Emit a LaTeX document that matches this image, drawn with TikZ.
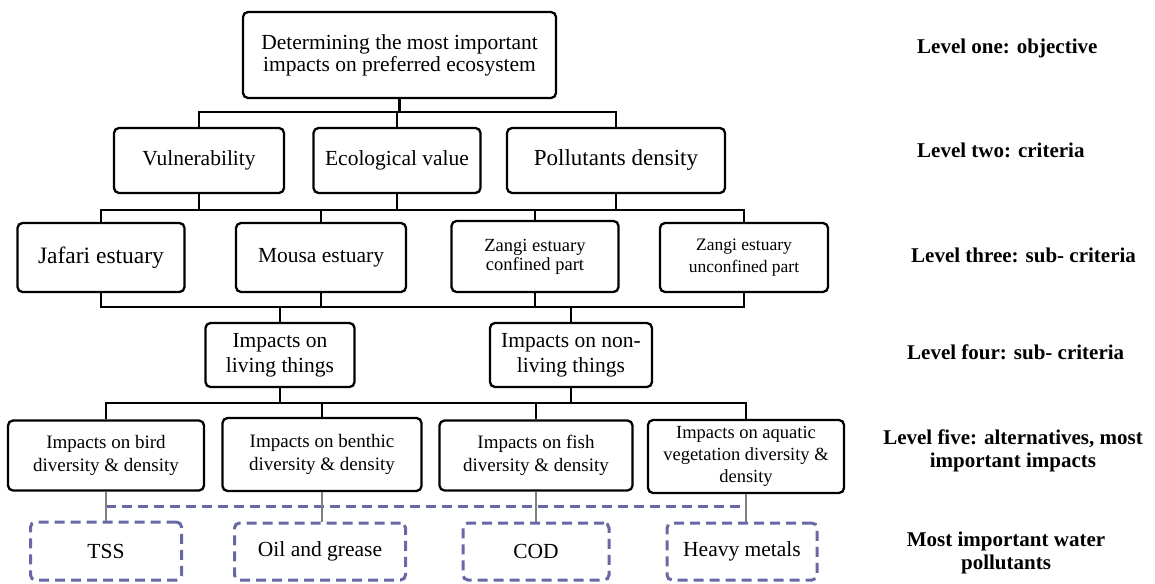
\documentclass[tikz,border=0pt]{standalone}
\usepackage{fontspec}
\setmainfont{Liberation Serif}
\definecolor{dashblue}{RGB}{104,104,164}
\definecolor{stemgray}{RGB}{128,128,128}
\begin{document}
\begin{tikzpicture}[x=1pt,y=-1pt,
  box/.style={draw=black, line width=2.3pt, rounded corners=5pt, align=center, inner sep=0pt},
  dbox/.style={draw=dashblue, line width=3pt, dash pattern=on 10pt off 6pt, rounded corners=5pt, align=center, inner sep=0pt},
  conn/.style={draw=black, line width=2.3pt},
  gline/.style={draw=stemgray, line width=2pt},
  dline/.style={draw=dashblue, line width=3pt, dash pattern=on 10pt off 6pt},
  lab/.style={font=\fontsize{21}{23}\selectfont\bfseries, inner sep=0pt, align=center},
  fmain/.style={font=\fontsize{21.5}{22}\selectfont},
  ffive/.style={font=\fontsize{19}{23}\selectfont}
]
\useasboundingbox (0,0) rectangle (1155,583);

% Level one
\node[box, fmain, minimum width=313pt, minimum height=86pt] (obj) at (399.5,55)
  {Determining the most important\\impacts on preferred ecosystem};

% Level two
\node[box, fmain, minimum width=170pt, minimum height=65pt] (vul) at (199,160.5) {Vulnerability};
\node[box, fmain, minimum width=167pt, minimum height=65pt] (eco) at (397,160.5) {Ecological value};
\node[box, font=\fontsize{23}{24}\selectfont, minimum width=218pt, minimum height=65pt] (pol) at (616,160.5) {Pollutants density};

% Level three
\node[box, font=\fontsize{23.5}{24}\selectfont, minimum width=167pt, minimum height=69pt] (jaf) at (101,257.5) {Jafari estuary};
\node[box, fmain, minimum width=170pt, minimum height=69pt] (mou) at (321,257.5) {Mousa estuary};
\node[box, font=\fontsize{18.5}{19}\selectfont, minimum width=167pt, minimum height=71pt] (zc) at (535,256.5) {Zangi estuary\\confined part};
\node[box, font=\fontsize{17.5}{22}\selectfont, minimum width=168pt, minimum height=69pt] (zu) at (744,257.5) {Zangi estuary\\unconfined part};

% Level four
\node[box, font=\fontsize{21.5}{25}\selectfont, minimum width=149pt, minimum height=64pt] (liv) at (280,355) {Impacts on\\living things};
\node[box, font=\fontsize{21.5}{25}\selectfont, minimum width=162pt, minimum height=64pt] (nliv) at (571,355) {Impacts on non-\\living things};

% Level five
\node[box, ffive, minimum width=196pt, minimum height=70pt] (bird) at (106,455.5) {Impacts on bird\\diversity \& density};
\node[box, ffive, minimum width=199pt, minimum height=73pt] (ben) at (322,454.5) {Impacts on benthic\\diversity \& density};
\node[box, ffive, minimum width=193pt, minimum height=70pt] (fish) at (536,455.5) {Impacts on fish\\diversity \& density};
\node[box, font=\fontsize{18.5}{22}\selectfont, minimum width=196pt, minimum height=73pt] (aqua) at (746,456.5) {Impacts on aquatic\\vegetation diversity \&\\density};

% Pollutant boxes
\node[dbox, fmain, minimum width=151pt, minimum height=58pt] (tss) at (106,551) {TSS};
\node[dbox, fmain, minimum width=171pt, minimum height=57pt] (oil) at (320,551.5) {Oil and grease};
\node[dbox, fmain, minimum width=146pt, minimum height=57pt] (cod) at (536,551.5) {COD};
\node[dbox, fmain, minimum width=150pt, minimum height=57pt] (hvy) at (742,551.5) {Heavy metals};

% Right-side level labels
\node[lab, anchor=west] (l1) at (917,48) {Level one: objective};
\node[lab, anchor=west] (l2) at (917,150) {Level two: criteria};
\node[lab, anchor=west] (l3) at (911,255) {Level three: sub- criteria};
\node[lab, anchor=west] (l4) at (907,352) {Level four: sub- criteria};
\node[lab] (l5) at (1013,451) {Level five: alternatives, most\\important impacts};
\node[lab] (l6) at (1006,553) {Most important water\\pollutants};

% bar levels
\coordinate (bar1) at (0,112);
\coordinate (bar2) at (0,210);
\coordinate (bar3) at (0,307);
\coordinate (bar4) at (0,403);
\coordinate (dsh) at (0,506);

% Level 1 -> 2
\draw[conn] (obj.south) -- (obj.south |- bar1);
\draw[conn] (vul.north) -- (vul.north |- bar1) -- (pol.north |- bar1) -- (pol.north);
\draw[conn] (eco.north) -- (eco.north |- bar1);

% Level 2 -> 3
\draw[conn] (vul.south) -- (vul.south |- bar2);
\draw[conn] (eco.south) -- (eco.south |- bar2);
\draw[conn] (pol.south) -- (pol.south |- bar2);
\draw[conn] (jaf.north) -- (jaf.north |- bar2) -- (zu.north |- bar2) -- (zu.north);
\draw[conn] (mou.north) -- (mou.north |- bar2);
\draw[conn] (zc.north) -- (zc.north |- bar2);

% Level 3 -> 4
\draw[conn] (jaf.south) -- (jaf.south |- bar3) -- (zu.south |- bar3) -- (zu.south);
\draw[conn] (mou.south) -- (mou.south |- bar3);
\draw[conn] (zc.south) -- (zc.south |- bar3);
\draw[conn] (liv.north) -- (liv.north |- bar3);
\draw[conn] (nliv.north) -- (nliv.north |- bar3);

% Level 4 -> 5
\draw[conn] (liv.south) -- (liv.south |- bar4);
\draw[conn] (nliv.south) -- (nliv.south |- bar4);
\draw[conn] (bird.north) -- (bird.north |- bar4) -- (aqua.north |- bar4) -- (aqua.north);
\draw[conn] (ben.north) -- (ben.north |- bar4);
\draw[conn] (fish.north) -- (fish.north |- bar4);

% Level 5 -> pollutants
\draw[dline] (bird.south |- dsh) -- (aqua.south |- dsh);
\draw[gline] (bird.south) -- (bird.south |- tss.north);
\draw[gline] (ben.south) -- (ben.south |- oil.north);
\draw[gline] (fish.south) -- (fish.south |- cod.north);
\draw[gline] (aqua.south) -- (aqua.south |- hvy.north);
\end{tikzpicture}
\end{document}
